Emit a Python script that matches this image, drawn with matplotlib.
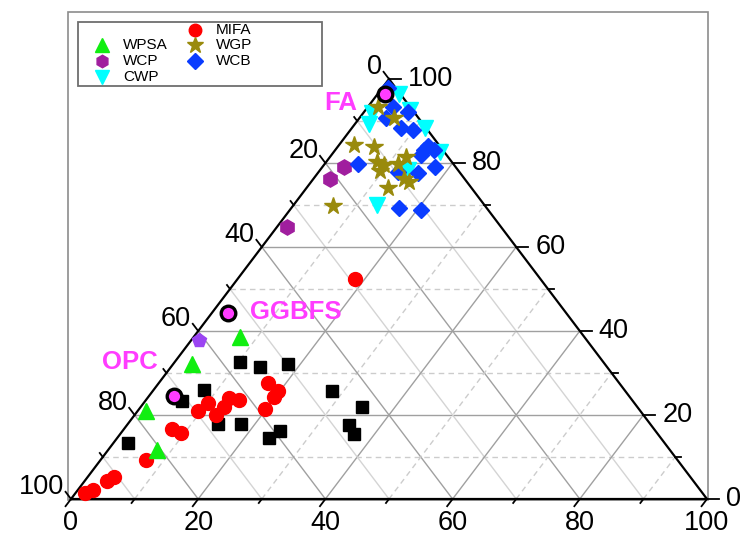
import numpy as np
import matplotlib.pyplot as plt
from matplotlib.patches import Rectangle

plt.rcParams['font.family'] = ['Liberation Sans', 'DejaVu Sans']

# ternary values in %: a = bottom axis, b = right axis, c = 100 - a - b (left axis)
mifa_a = [18.5, 17.2, 19.7, 19.8, 19.8, 12.8, 14.6, 10.1, 9.5, 13.1, 12.8, 7.5, 9.4, 7.2, 4.1, 3.5, 2.4, 1.5]
mifa_b = [52.4, 27.6, 25.7, 24.3, 21.4, 24.0, 23.6, 22.9, 20.9, 21.9, 20.0, 16.7, 15.7, 9.3, 5.2, 4.3, 2.1, 1.4]

other_a = [10.3, 14.0, 18.1, 7.9, 5.8, 28.2, 34.8, 14.2, 17.8, 24.8, 23.9, 34.9, 36.8, 2.3]
other_b = [32.6, 31.4, 32.1, 26.0, 23.3, 25.7, 21.9, 17.9, 17.9, 16.2, 14.5, 17.6, 15.5, 13.3]

wpsa_a = [7.3, 3.0, 1.3, 7.7]
wpsa_b = [38.6, 32.1, 20.9, 11.7]

wcp_a = [1.6, 3.4, 2.6]
wcp_b = [64.8, 79.0, 76.2]

cwp_a = [3.4, 1.4, 2.2, 7.0, 11.5, 16.7, 13.8, 13.1]
cwp_b = [96.4, 91.9, 89.3, 92.6, 88.3, 82.6, 78.3, 70.0]

wcb_a = [0.9, 4.0, 6.9, 4.2, 7.7, 9.8, 14.1, 14.0, 15.5, 14.1, 5.2, 17.7, 15.8, 12.5, 16.9, 20.6]
wcb_b = [97.9, 93.3, 92.1, 90.7, 88.3, 87.9, 84.0, 83.1, 83.1, 81.9, 79.8, 79.0, 77.6, 77.9, 69.3, 68.8]

wgp_a = [1.6, 5.4, 2.4, 5.7, 8.0, 9.5, 9.5, 11.5, 12.0, 14.3, 15.4, 12.8, 6.3]
wgp_b = [93.3, 90.7, 84.3, 83.8, 80.2, 79.5, 78.1, 79.8, 81.4, 76.2, 75.5, 74.0, 69.8]

extra_a = [1.2]
extra_b = [37.9]

ref_names = ['FA', 'GGBFS', 'OPC']
ref_a = [1.2, 2.5, 3.9]
ref_b = [96.4, 44.3, 24.5]


def tern(a, b):
    a = np.asarray(a, float)
    b = np.asarray(b, float)
    return a + b / 2.0, b


fig = plt.figure(figsize=(7.42, 5.39), dpi=100)
over = fig.add_axes([0, 0, 1, 1])
over.set_xlim(0, 742)
over.set_ylim(539, 0)
over.axis('off')

ax = fig.add_axes([71 / 742, 40 / 539, 636 / 742, 420 / 539])
ax.set_xlim(0, 100)
ax.set_ylim(0, 100)
ax.axis('off')

# pixel size of one data unit
px_x, px_y = 636 / 100, 420 / 100

# frame
over.add_patch(Rectangle((68, 12), 640, 488, fill=False, ec='#8c8c8c', lw=1.2))

# grid
for v in range(10, 100, 10):
    major = v % 20 == 0
    col = '#a0a0a0' if major else '#cccccc'
    dash = '-' if major else (0, (4, 3))
    x, y = tern([v, v], [0, 100 - v])
    ax.plot(x, y, color=col, lw=1.0, ls=dash, zorder=1)
    x, y = tern([0, 100 - v], [v, v])
    ax.plot(x, y, color=col, lw=1.0, ls=dash, zorder=1)
    x, y = tern([0, 100 - v], [100 - v, 0])
    ax.plot(x, y, color=col if major else '#d4d4d4', lw=1.0, ls='-', zorder=1)

# triangle
x, y = tern([0, 100, 0, 0], [0, 0, 100, 0])
ax.plot(x, y, color='black', lw=1.6, zorder=2, clip_on=False, solid_joinstyle='miter')

# ticks and labels
ux, uy = 0.604, 0.797
tfs = 19.5
for v in range(0, 101, 10):
    major = v % 20 == 0
    L = 9 if major else 5
    # bottom axis
    x0, y0 = tern(v, 0)
    ax.plot([x0, x0 - ux * L / px_x], [y0, y0 - uy * L / px_y], color='black', lw=1.3, clip_on=False)
    # right axis
    x0, y0 = tern(100 - v, v)
    Lr = 12 if major else 6
    ax.plot([x0, x0 + Lr / px_x], [y0, y0], color='black', lw=1.3, clip_on=False)
    # left axis
    x0, y0 = tern(0, 100 - v)
    ax.plot([x0, x0 - ux * L / px_x], [y0, y0 + uy * L / px_y], color='black', lw=1.3, clip_on=False)
    if major:
        x0, y0 = tern(v, 0)
        ax.text(x0, y0 - 24 / px_y, str(v), ha='center', va='center', fontsize=tfs, clip_on=False)
        x0, y0 = tern(100 - v, v)
        ax.text(x0 + 19 / px_x, y0, str(v), ha='left', va='center', fontsize=tfs, clip_on=False)
        x0, y0 = tern(0, 100 - v)
        ax.text(x0 - 7 / px_x, y0 + 12 / px_y, str(v), ha='right', va='center', fontsize=tfs, clip_on=False)

# data series
series = [
    (other_a, other_b, dict(marker='s', color='black', ms=8)),
    (mifa_a, mifa_b, dict(marker='o', color='#ff0000', ms=10)),
    (wpsa_a, wpsa_b, dict(marker='^', color='#11ee11', ms=11)),
    (wcp_a, wcp_b, dict(marker='h', color='#a01e9e', ms=11)),
    (extra_a, extra_b, dict(marker='p', color='#9b45f2', ms=10)),
    (cwp_a, cwp_b, dict(marker='v', color='#00ffff', ms=11)),
    (wcb_a, wcb_b, dict(marker='D', color='#0a3cff', ms=8.5)),
    (wgp_a, wgp_b, dict(marker='*', color='#998a0c', ms=13)),
]
for i, (sa, sb, st) in enumerate(series):
    x, y = tern(sa, sb)
    ax.plot(x, y, ls='none', mec=st['color'], zorder=3 + i, clip_on=False, **st)

x, y = tern(ref_a, ref_b)
ax.plot(x, y, ls='none', marker='o', ms=10.5, mfc='#ff3cff', mec='black', mew=2.4, zorder=20, clip_on=False)
offsets = [(-44, -9, 'center'), (22, 1, 'left'), (-44, 34, 'center')]
for name, xx, yy, (dx, dy, ha) in zip(ref_names, x, y, offsets):
    ax.annotate(name, (xx, yy), xytext=(dx, dy), textcoords='offset pixels',
                ha=ha, va='center', fontsize=18.5, fontweight='bold', color='#ff3cff',
                annotation_clip=False, zorder=21)

# legend
over.add_patch(Rectangle((78, 22), 244, 64, fill=False, ec='#6e6e6e', lw=1.3))
leg = [
    (102, 45, 'WPSA', dict(marker='^', color='#11ee11', ms=10)),
    (102, 61, 'WCP', dict(marker='h', color='#a01e9e', ms=9)),
    (102, 77, 'CWP', dict(marker='v', color='#00ffff', ms=10)),
    (195, 30, 'MIFA', dict(marker='o', color='#ff0000', ms=9)),
    (195, 45, 'WGP', dict(marker='*', color='#998a0c', ms=12)),
    (195, 61, 'WCB', dict(marker='D', color='#0a3cff', ms=8)),
]
for mx, my, lab, st in leg:
    over.plot([mx], [my], ls='none', mec=st['color'], **st)
    over.text(mx + 21, my, lab, ha='left', va='center', fontsize=11)

fig.savefig('out.png', dpi=100)
